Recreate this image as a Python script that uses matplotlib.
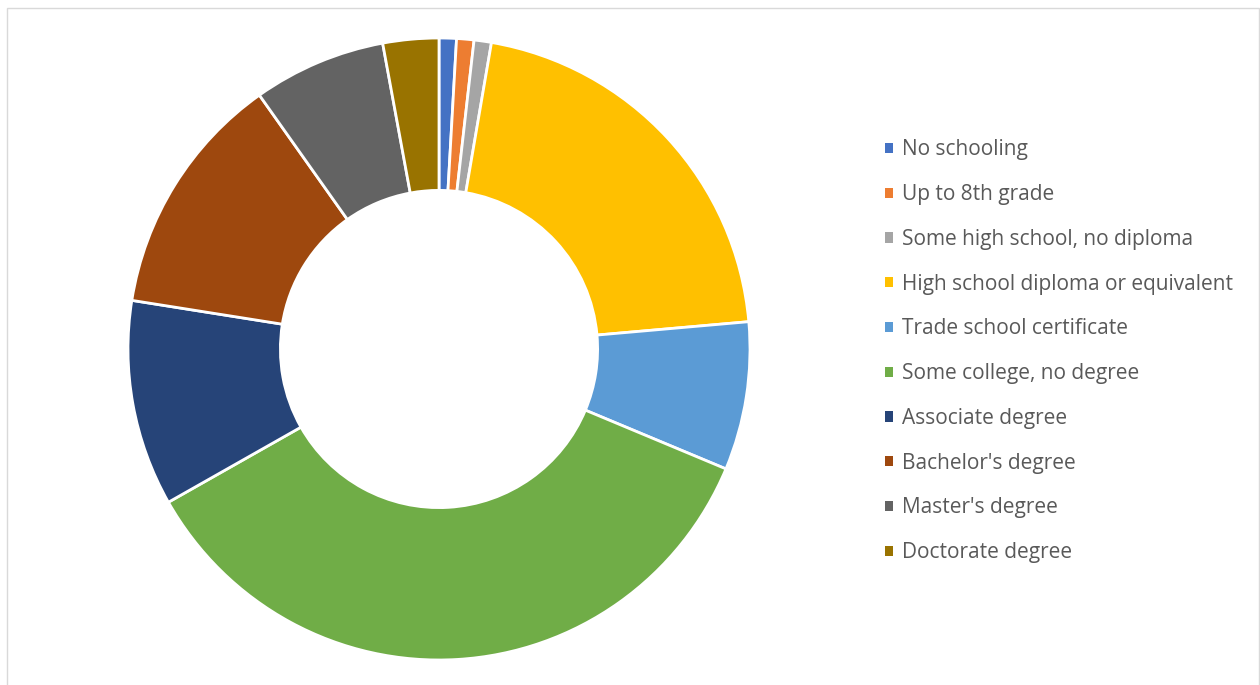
import matplotlib.pyplot as plt
from matplotlib.patches import Rectangle, Patch

# education levels and their share of respondents (%)
levels = ["No schooling", "Up to 8th grade", "Some high school, no diploma",
          "High school diploma or equivalent", "Trade school certificate",
          "Some college, no degree", "Associate degree", "Bachelor's degree",
          "Master's degree", "Doctorate degree"]
shares = [0.9, 0.9, 0.9, 20.9, 7.7, 35.5, 10.7, 12.7, 6.9, 2.9]
colors = ["#4472C4", "#ED7D31", "#A5A5A5", "#FFC000", "#5B9BD5",
          "#70AD47", "#264478", "#9E480E", "#636363", "#997300"]

W, H = 1260, 685
fig = plt.figure(figsize=(W / 100, H / 100), dpi=100)

# pie axes: centre (439, 349) px, radius 311 px
cx, cy, r = 439, 349, 311
ax = fig.add_axes([(cx - r) / W, (H - cy - r) / H, 2 * r / W, 2 * r / H])
wedges, _ = ax.pie(shares, colors=colors, startangle=90, counterclock=False,
                   radius=1, wedgeprops=dict(width=0.49, edgecolor="white", linewidth=2))
ax.set_xlim(-1, 1)
ax.set_ylim(-1, 1)
ax.set_aspect("equal")
ax.axis("off")

handles = [Patch(facecolor=c, edgecolor="none") for c in colors]
leg = fig.legend(handles, levels, loc="upper left", bbox_to_anchor=(875 / W, 1 - 129 / H),
                 frameon=False, prop={"family": "Open Sans", "size": 15},
                 handlelength=0.38, handleheight=0.38, handletextpad=0.4,
                 labelspacing=1.14, borderpad=0)
for t in leg.get_texts():
    t.set_color("#595959")

# chart area outline
fig.patches.append(Rectangle((6.5 / W, -0.01), (1259 - 6.5) / W, 1 - 7.5 / H + 0.01,
                             transform=fig.transFigure, fill=False,
                             edgecolor="#D9D9D9", linewidth=1))

fig.savefig("out.png", dpi=100)
